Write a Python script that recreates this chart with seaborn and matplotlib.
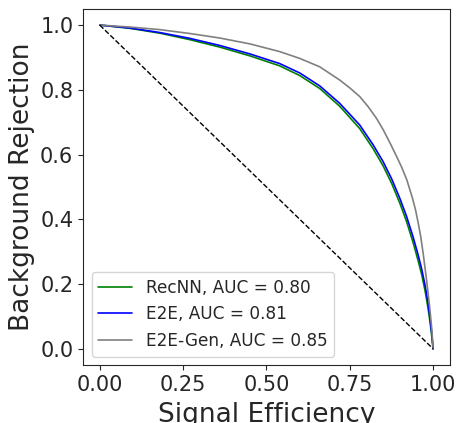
import numpy as np
import pandas as pd
import matplotlib
matplotlib.use("Agg")
import matplotlib.pyplot as plt
import seaborn as sns

# signal efficiency / background rejection
e2e_eff = [0, 0.09, 0.18, 0.27, 0.36, 0.45, 0.54, 0.60, 0.66, 0.72, 0.78, 0.82,
           0.85, 0.876, 0.90, 0.92, 0.94, 0.955, 0.966, 0.976, 0.984, 0.99, 0.995, 1.0]
e2e_rej = [1, 0.991, 0.977, 0.959, 0.937, 0.911, 0.881, 0.852, 0.812, 0.758, 0.691, 0.630,
           0.578, 0.524, 0.465, 0.41, 0.345, 0.29, 0.245, 0.195, 0.145, 0.10, 0.055, 0]

recnn_eff = [0, 0.09, 0.18, 0.27, 0.36, 0.45, 0.54, 0.60, 0.66, 0.72, 0.78, 0.82,
             0.85, 0.876, 0.90, 0.92, 0.94, 0.955, 0.966, 0.976, 0.984, 0.99, 0.995, 1.0]
recnn_rej = [1, 0.990, 0.975, 0.955, 0.932, 0.905, 0.874, 0.844, 0.804, 0.749, 0.680, 0.618,
             0.565, 0.51, 0.45, 0.394, 0.328, 0.272, 0.228, 0.178, 0.13, 0.088, 0.047, 0]

gen_eff = [0, 0.09, 0.18, 0.27, 0.36, 0.45, 0.54, 0.60, 0.66, 0.72, 0.75, 0.78, 0.805,
           0.83, 0.85, 0.871, 0.89, 0.906, 0.921, 0.937, 0.947, 0.955, 0.963, 0.97,
           0.98, 0.99, 0.996, 1.0]
gen_rej = [1, 0.994, 0.986, 0.974, 0.96, 0.942, 0.918, 0.897, 0.871, 0.830, 0.806, 0.779, 0.748,
           0.712, 0.677, 0.635, 0.595, 0.56, 0.522, 0.469, 0.43, 0.39, 0.345, 0.295,
           0.215, 0.125, 0.06, 0]

labels = ["RecNN, AUC = 0.80", "E2E, AUC = 0.81", "E2E-Gen, AUC = 0.85"]
colors = ["green", "blue", "gray"]

sns.set_style("ticks")
plt.rcParams['font.family'] = ['DejaVu Sans']

fig = plt.figure(figsize=(4.59, 4.23), dpi=100)
ax = fig.add_axes([0.181, 0.137, 0.799, 0.842])

curves = [(recnn_eff, recnn_rej), (e2e_eff, e2e_rej), (gen_eff, gen_rej)]
for (x, y), lab, col in zip(curves, labels, colors):
    df = pd.DataFrame({"eff": x, "rej": y})
    sns.lineplot(data=df, x="eff", y="rej", sort=False, estimator=None,
                 color=col, lw=1.2, label=lab, ax=ax)

# random classifier diagonal
ax.plot([0, 1], [1, 0], color="black", ls="--", lw=1)

ax.set_xticks([0, 0.25, 0.5, 0.75, 1.0])
ax.set_yticks([0, 0.2, 0.4, 0.6, 0.8, 1.0])
ax.set_xticklabels(["0.00", "0.25", "0.50", "0.75", "1.00"])
ax.set_yticklabels(["0.0", "0.2", "0.4", "0.6", "0.8", "1.0"])
ax.tick_params(labelsize=15)
ax.set_xlabel("Signal Efficiency", fontsize=19, labelpad=5)
ax.set_ylabel("Background Rejection", fontsize=19)
ax.legend(loc="lower left", fontsize=12.2)

fig.savefig("out.png", dpi=100)
